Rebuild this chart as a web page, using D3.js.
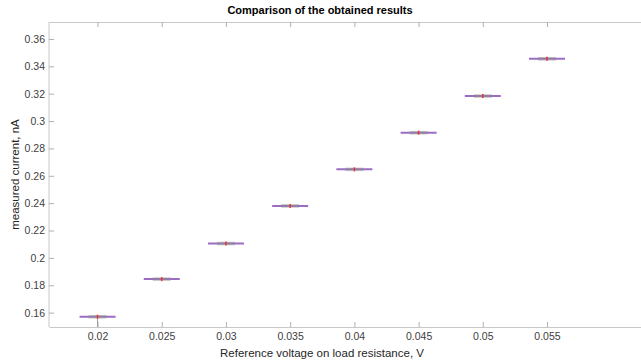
<!DOCTYPE html>
<html>
<head>
<meta charset="utf-8">
<script src="https://cdn.jsdelivr.net/npm/d3@7"></script>
<style>
  body { margin: 0; background: #fff; }
  text { font-family: "Liberation Sans", Arial, sans-serif; }
</style>
</head>
<body>
<div id="chart"></div>
<script>
// reference voltage groups
const voltages = [0.02, 0.025, 0.03, 0.035, 0.04, 0.045, 0.05, 0.055];
// median measured current per group, nA
const medians = [0.1570, 0.1845, 0.2105, 0.2380, 0.2647, 0.2915, 0.3183, 0.3455];
// box spread (q1 / q3) — very tight
const q1 = [0.1568, 0.1843, 0.2103, 0.2378, 0.2645, 0.2913, 0.3181, 0.3453];
const q3 = [0.1572, 0.1847, 0.2107, 0.2382, 0.2649, 0.2917, 0.3185, 0.3457];
// lower whisker end (only visible on the first group)
const whiskerLow = [0.1495, 0.1845, 0.2105, 0.2380, 0.2647, 0.2915, 0.3183, 0.3455];
const xTicks = [0.02, 0.025, 0.03, 0.035, 0.04, 0.045, 0.05, 0.055];
const yTicks = [0.16, 0.18, 0.2, 0.22, 0.24, 0.26, 0.28, 0.3, 0.32, 0.34, 0.36];

const W = 641, H = 361;
const mLeft = 49, mTop = 22, mBottom = 327, mRight = 641;

const svg = d3.select('#chart').append('svg')
  .attr('width', W).attr('height', H);

const x = d3.scaleLinear().domain([0.01622, 0.06232]).range([mLeft, mRight]);
const y = d3.scaleLinear().domain([0.1495, 0.3724]).range([mBottom, mTop]);

const axisColor = '#c8c8c8';
const labelColor = '#404040';

// y axis (ticks inward)
const yAxis = svg.append('g').attr('transform', `translate(${mLeft},0)`)
  .call(d3.axisLeft(y).tickValues(yTicks).tickSizeInner(-5).tickSizeOuter(0)
    .tickPadding(4).tickFormat(d => d3.format('')(+d.toFixed(2))));
// bottom axis
const xAxis = svg.append('g').attr('transform', `translate(0,${mBottom})`)
  .call(d3.axisBottom(x).tickValues(xTicks).tickSizeInner(-5).tickSizeOuter(0)
    .tickPadding(6).tickFormat(d => d3.format('')(+d.toFixed(3))));
// top border with ticks
const xTop = svg.append('g').attr('transform', `translate(0,${mTop})`)
  .call(d3.axisTop(x).tickValues(xTicks).tickSizeInner(-5).tickSizeOuter(0).tickFormat(''));

[yAxis, xAxis, xTop].forEach(g => {
  g.select('.domain').attr('stroke', axisColor);
  g.selectAll('.tick line').attr('stroke', '#b0b0b0');
  g.selectAll('.tick text').attr('fill', labelColor).style('font-size', '10.5px');
});
yAxis.select('.domain').attr('d', `M0,${mBottom}V${mTop}`);

const groups = svg.append('g').selectAll('g')
  .data(voltages.map((v, i) => ({ v, med: medians[i], lo: q1[i], hi: q3[i], wl: whiskerLow[i] })))
  .join('g');

// lower whisker
groups.append('line')
  .attr('x1', d => x(d.v)).attr('x2', d => x(d.v))
  .attr('y1', d => y(d.lo)).attr('y2', d => y(d.wl))
  .attr('stroke', '#a0a0a0').attr('stroke-width', 1);

// wide purple line
groups.append('line')
  .attr('x1', d => x(d.v) - 18).attr('x2', d => x(d.v) + 18)
  .attr('y1', d => y(d.med)).attr('y2', d => y(d.med))
  .attr('stroke', '#9a6cc4').attr('stroke-width', 2);

// gray box
groups.append('rect')
  .attr('x', d => x(d.v) - 9).attr('width', 18)
  .attr('y', d => y(d.hi) - 1.5).attr('height', d => y(d.lo) - y(d.hi) + 3)
  .attr('fill', '#8c8c8c').attr('opacity', 0.5);

// red median mark
groups.append('line')
  .attr('x1', d => x(d.v)).attr('x2', d => x(d.v))
  .attr('y1', d => y(d.med) - 2).attr('y2', d => y(d.med) + 2)
  .attr('stroke', '#f03030').attr('stroke-width', 1.5);

// title and labels
svg.append('text').attr('x', 320).attr('y', 14).attr('text-anchor', 'middle')
  .style('font-size', '11px').style('font-weight', 'bold').attr('fill', '#000')
  .text('Comparison of the obtained results');
svg.append('text').attr('x', 322).attr('y', 357).attr('text-anchor', 'middle')
  .style('font-size', '11.5px').attr('fill', '#262626')
  .text('Reference voltage on load resistance, V');
svg.append('text').attr('transform', `translate(19,${(mTop + mBottom) / 2}) rotate(-90)`)
  .attr('text-anchor', 'middle').style('font-size', '11.5px').attr('fill', '#262626')
  .text('measured current, nA');
</script>
</body>
</html>
